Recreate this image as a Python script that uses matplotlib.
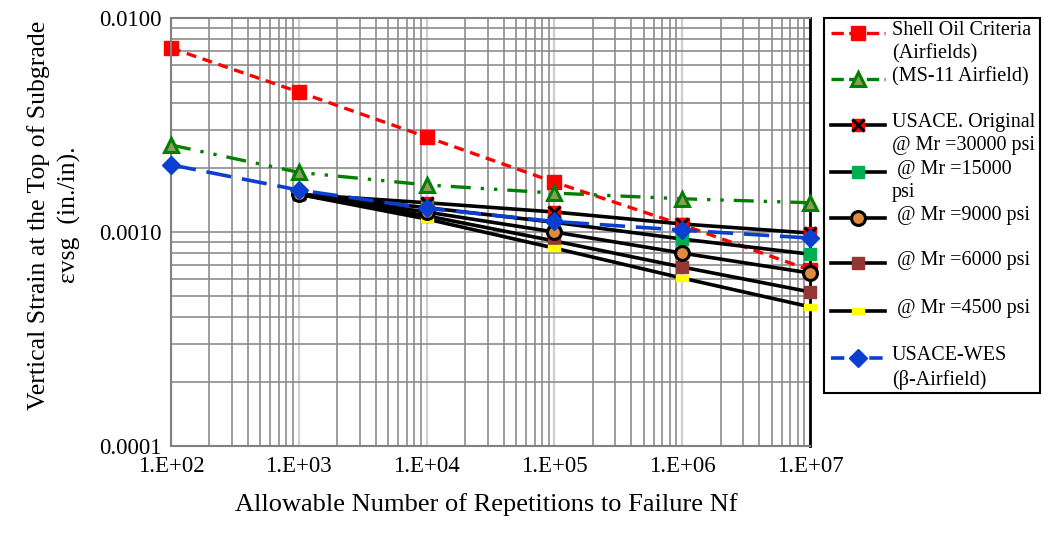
import matplotlib
matplotlib.use("Agg")
import matplotlib.pyplot as plt
from matplotlib.lines import Line2D
from matplotlib.ticker import FixedLocator, LogLocator, NullFormatter, FixedFormatter

plt.rcParams['font.family'] = ['Liberation Serif', 'DejaVu Serif']

# ---- data ----
nf_all = [1e2, 1e3, 1e4, 1e5, 1e6, 1e7]
nf_usace = [1e3, 1e4, 1e5, 1e6, 1e7]

shell_oil = [0.00724, 0.00451, 0.00278, 0.00171, 0.00108, 0.000664]
ms11 = [0.00255, 0.00190, 0.00166, 0.00152, 0.00143, 0.00137]
usace_wes = [0.00206, 0.00157, 0.00129, 0.00112, 0.00102, 0.000937]

usace_30000 = [0.00150, 0.00137, 0.00124, 0.00109, 0.000989]
usace_15000 = [0.00150, 0.00130, 0.00111, 0.000927, 0.000788]
usace_9000 = [0.00150, 0.00124, 0.00100, 0.000797, 0.000643]
usace_6000 = [0.00150, 0.00119, 0.000908, 0.000686, 0.000525]
usace_4500 = [0.00150, 0.00115, 0.000841, 0.000609, 0.000447]

x_tick_vals = [1e2, 1e3, 1e4, 1e5, 1e6, 1e7]
x_tick_labels = ["1.E+02", "1.E+03", "1.E+04", "1.E+05", "1.E+06", "1.E+07"]
y_tick_vals = [1e-4, 1e-3, 1e-2]
y_tick_labels = ["0.0001", "0.0010", "0.0100"]

legend_labels = ["Shell Oil Criteria\n(Airfields)", "(MS-11 Airfield)",
                 "USACE. Original\n@ Mr =30000 psi", " @ Mr =15000\npsi",
                 " @ Mr =9000 psi", " @ Mr =6000 psi", " @ Mr =4500 psi",
                 "USACE-WES\n(\u03b2-Airfield)"]

# ---- figure ----
W, H = 1044, 542
fig = plt.figure(figsize=(W / 100, H / 100), dpi=100)
ax = fig.add_axes([171 / W, 1 - 446 / H, (810 - 171) / W, (446 - 18) / H])
ax.set_xscale('log')
ax.set_yscale('log')
ax.set_xlim(1e2, 1e7)
ax.set_ylim(1e-4, 1e-2)

# grid
ax.xaxis.set_minor_locator(LogLocator(base=10, subs=range(2, 10)))
ax.yaxis.set_minor_locator(LogLocator(base=10, subs=range(2, 10)))
ax.xaxis.set_minor_formatter(NullFormatter())
ax.yaxis.set_minor_formatter(NullFormatter())
ax.xaxis.set_major_locator(FixedLocator(x_tick_vals))
ax.xaxis.set_major_formatter(FixedFormatter(x_tick_labels))
ax.yaxis.set_major_locator(FixedLocator(y_tick_vals))
ax.yaxis.set_major_formatter(FixedFormatter(y_tick_labels))
ax.grid(True, which='minor', axis='both', color='#8c8c8c', lw=1.2)
ax.grid(True, which='major', axis='x', color='#cfcfcf', lw=1.6)
ax.grid(True, which='major', axis='y', color='#8c8c8c', lw=1.2)
ax.set_axisbelow(True)
ax.tick_params(which='both', length=0, labelsize=16.5)
ax.tick_params(axis='x', pad=7)
ax.tick_params(axis='y', pad=7)
for s in ['left', 'top', 'bottom']:
    ax.spines[s].set_color('#808080')
    ax.spines[s].set_linewidth(1.5)
ax.spines['right'].set_color('black')
ax.spines['right'].set_linewidth(2)

# ---- series ----
blk = dict(color='black', lw=2.6, clip_on=False)
h_shell, = ax.plot(nf_all, shell_oil, color='#ff0000', ls=(0, (3, 2)), lw=2.4,
                   marker='s', ms=10, mfc='#ff0000', mec='#ff0000', zorder=2, clip_on=False)
h_ms11, = ax.plot(nf_all, ms11, color='#008000', ls=(0, (6, 3, 1, 3, 1, 3)), lw=2.4,
                  marker='^', ms=10, mfc='#8f9a5c', mec='#008000', mew=2.2, zorder=3, clip_on=False)
h_30, = ax.plot(nf_usace, usace_30000, **blk, marker='s', ms=8, mfc='#ff0000', mec='#ff0000', zorder=4)
ax.plot(nf_usace, usace_30000, ls='none', marker='x', ms=8, mec='black', mew=2.2, zorder=4.1, clip_on=False)
h_15, = ax.plot(nf_usace, usace_15000, **blk, marker='s', ms=9, mfc='#00b050', mec='#00b050', zorder=4)
h_9, = ax.plot(nf_usace, usace_9000, **blk, marker='o', ms=10, mfc='#e08a3c', mec='black', mew=2.2, zorder=4.2)
h_6, = ax.plot(nf_usace, usace_6000, **blk, marker='s', ms=9, mfc='#943634', mec='#943634', zorder=4)
rect = [(-1, -0.55), (1, -0.55), (1, 0.55), (-1, 0.55), (-1, -0.55)]
h_45, = ax.plot(nf_usace, usace_4500, **blk, marker=rect, ms=9, mfc='#ffff00', mec='#ffff00', zorder=4)
h_wes, = ax.plot(nf_all, usace_wes, color='#0a3fd0', ls=(0, (7, 3)), lw=2.6,
                 marker='D', ms=9, mfc='#0a3fd0', mec='#0a3fd0', zorder=5, clip_on=False)

# ---- axis labels ----
fig.text(486 / W, 1 - 505 / H, "Allowable Number of Repetitions to Failure Nf",
         ha='center', va='center', fontsize=19)
fig.text(54 / W, 1 - 215 / H, "Vertical Strain at the Top of Subgrade\n\u03b5vsg  (in./in).",
         ha='center', va='center', rotation=90, fontsize=18.5, linespacing=1.45)

# ---- legend (manual) ----
lax = fig.add_axes([0, 0, 1, 1], facecolor='none')
lax.set_xlim(0, W)
lax.set_ylim(H, 0)
lax.axis('off')
lax.add_patch(plt.Rectangle((824, 18), 1040 - 824, 393 - 18, fill=False,
                            ec='black', lw=1.5))
handles = [h_shell, h_ms11, h_30, h_15, h_9, h_6, h_45, h_wes]
ys = [33, 79, 125, 172, 218, 263, 311, 358]
for h, lab, y in zip(handles, legend_labels, ys):
    lax.add_line(Line2D([831, 885], [y, y], color=h.get_color(), ls=h.get_linestyle(),
                        lw=h.get_linewidth()))
    lax.add_line(Line2D([858], [y], ls='none', marker=h.get_marker(), ms=h.get_markersize(),
                        mfc=h.get_markerfacecolor(), mec=h.get_markeredgecolor(),
                        mew=h.get_markeredgewidth()))
    if h is h_30:
        lax.add_line(Line2D([858], [y], ls='none', marker='x', ms=8, mec='black', mew=2.2))
    lax.text(892, y - 12, lab, ha='left', va='top', fontsize=14.5, linespacing=1.3)

fig.savefig("out.png", dpi=100)
